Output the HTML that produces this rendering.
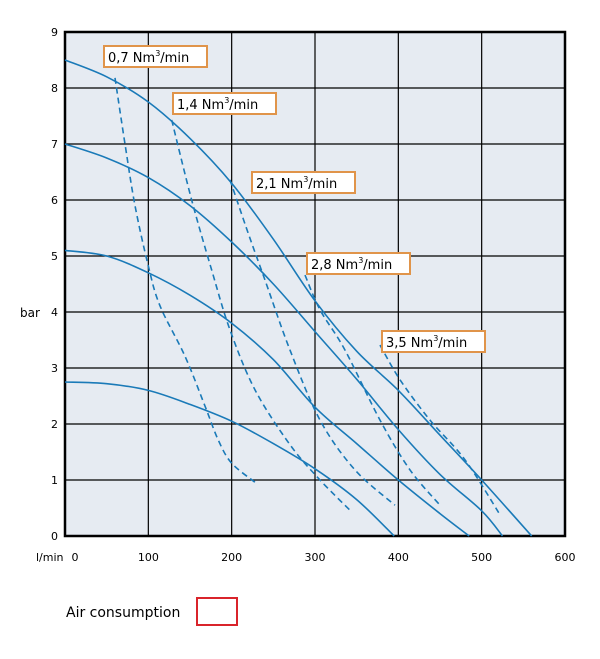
<!DOCTYPE html>
<html><head><meta charset="utf-8"><style>
body{margin:0;background:#fff;width:600px;height:655px;overflow:hidden;font-family:"DejaVu Sans","Liberation Sans",sans-serif}
svg text{font-family:"DejaVu Sans","Liberation Sans",sans-serif}
</style></head><body>
<svg id="chart" width="600" height="655" xmlns="http://www.w3.org/2000/svg">
<g id="grid"></g><g id="series"></g><g id="labels"></g>
<text x="20" y="317" font-size="12">bar</text>
<text x="36" y="561" font-size="11">l/min</text>
<text x="66" y="617" font-size="14">Air consumption</text>
<rect x="197" y="598" width="40" height="27" fill="none" stroke="#d9242b" stroke-width="2"/>
</svg>
<script>
const xTicks=[0,100,200,300,400,500,600];
const yTicks=[0,1,2,3,4,5,6,7,8,9];
const pressureCurves=[
 [[0,8.5],[50,8.2],[100,7.75],[150,7.1],[200,6.3],[250,5.3],[300,4.2],[350,3.3],[400,2.6],[450,1.8],[500,1.0],[560,0]],
 [[0,7.0],[50,6.75],[100,6.4],[150,5.9],[200,5.25],[250,4.5],[300,3.65],[350,2.8],[400,1.9],[450,1.1],[500,0.45],[525,0]],
 [[0,5.1],[50,5.0],[100,4.7],[150,4.3],[200,3.8],[250,3.15],[300,2.3],[350,1.65],[400,1.0],[450,0.4],[485,0]],
 [[0,2.75],[50,2.72],[100,2.6],[150,2.35],[200,2.05],[250,1.65],[300,1.2],[350,0.65],[395,0]]
];
const airCurves=[
 [[60,8.18],[72,7.0],[84,5.9],[100,4.82],[114,4.11],[144,3.21],[168,2.32],[184,1.71],[200,1.3],[228,0.96]],
 [[128,7.43],[152,6.0],[176,4.75],[198,3.68],[228,2.61],[270,1.63],[306,1.0],[342,0.46]],
 [[198,6.36],[220,5.4],[240,4.57],[270,3.32],[306,2.07],[348,1.18],[396,0.55]],
 [[288,4.66],[306,4.04],[336,3.32],[378,2.07],[414,1.18],[450,0.55]],
 [[378,3.41],[402,2.79],[438,2.07],[480,1.36],[522,0.38]]
];
const airLabels=["0,7","1,4","2,1","2,8","3,5"];
const labelPos=[[104,46],[173,93],[252,172],[307,253],[382,331]];
const X=v=>65+v*500/600, Y=v=>536-v*504/9;
const NS="http://www.w3.org/2000/svg";
function mk(t,a,p){const e=document.createElementNS(NS,t);for(const k in a)e.setAttribute(k,a[k]);p.appendChild(e);return e;}
const grid=document.getElementById('grid'),ser=document.getElementById('series'),lab=document.getElementById('labels');
const bg=mk('rect',{x:X(0),y:Y(9),width:X(600)-X(0),height:Y(0)-Y(9),fill:'#e6ebf2'},grid);


xTicks.forEach(t=>{
 const l=mk('line',{x1:X(t),x2:X(t),y1:Y(9),y2:Y(0),stroke:'#000','stroke-width':1.2},grid);
 
 
 const tx=mk('text',{x:X(t)+(t==0?10:0),y:561,'font-size':11,'text-anchor':'middle'},grid);tx.textContent=t;
 
 
});
yTicks.forEach(t=>{
 const l=mk('line',{x1:X(0),x2:X(600),y1:Y(t),y2:Y(t),stroke:'#000','stroke-width':1.2},grid);
 
 
 const tx=mk('text',{x:58,y:Y(t)+4,'font-size':11,'text-anchor':'end'},grid);tx.textContent=t;
 
 
});
const fr=mk('rect',{x:X(0),y:Y(9),width:X(600)-X(0),height:Y(0)-Y(9),fill:'none',stroke:'#000','stroke-width':2.5},grid);


function smooth(pts){const p=pts.map(q=>[X(q[0]),Y(q[1])]);let d='M'+p[0][0]+','+p[0][1];
 for(let i=0;i<p.length-1;i++){const p0=p[i-1]||p[i],p1=p[i],p2=p[i+1],p3=p[i+2]||p2;
 d+=' C'+(p1[0]+(p2[0]-p0[0])/6)+','+(p1[1]+(p2[1]-p0[1])/6)+' '+(p2[0]-(p3[0]-p1[0])/6)+','+(p2[1]-(p3[1]-p1[1])/6)+' '+p2[0]+','+p2[1];}return d;}
pressureCurves.forEach(c=>{
 const e=mk('path',{d:smooth(c),fill:'none',stroke:'#1a7ab8','stroke-width':1.6},ser);
 
 
});
airCurves.forEach(c=>{
 const e=mk('path',{d:smooth(c),fill:'none',stroke:'#1a7ab8','stroke-width':1.6,'stroke-dasharray':'6,4'},ser);
 
 
});
airLabels.forEach((s,i)=>{
 const [x,y]=labelPos[i];
 const r=mk('rect',{x:x,y:y,width:103,height:21,fill:'#fff',stroke:'#e0944a','stroke-width':2},lab);
 
 
 const t=mk('text',{x:x+4,y:y+16,'font-size':13},lab);
 t.innerHTML=s+' Nm<tspan font-size="8" dy="-6">3</tspan><tspan dy="6">/min</tspan>';
 
 
});
</script>
</body></html>
